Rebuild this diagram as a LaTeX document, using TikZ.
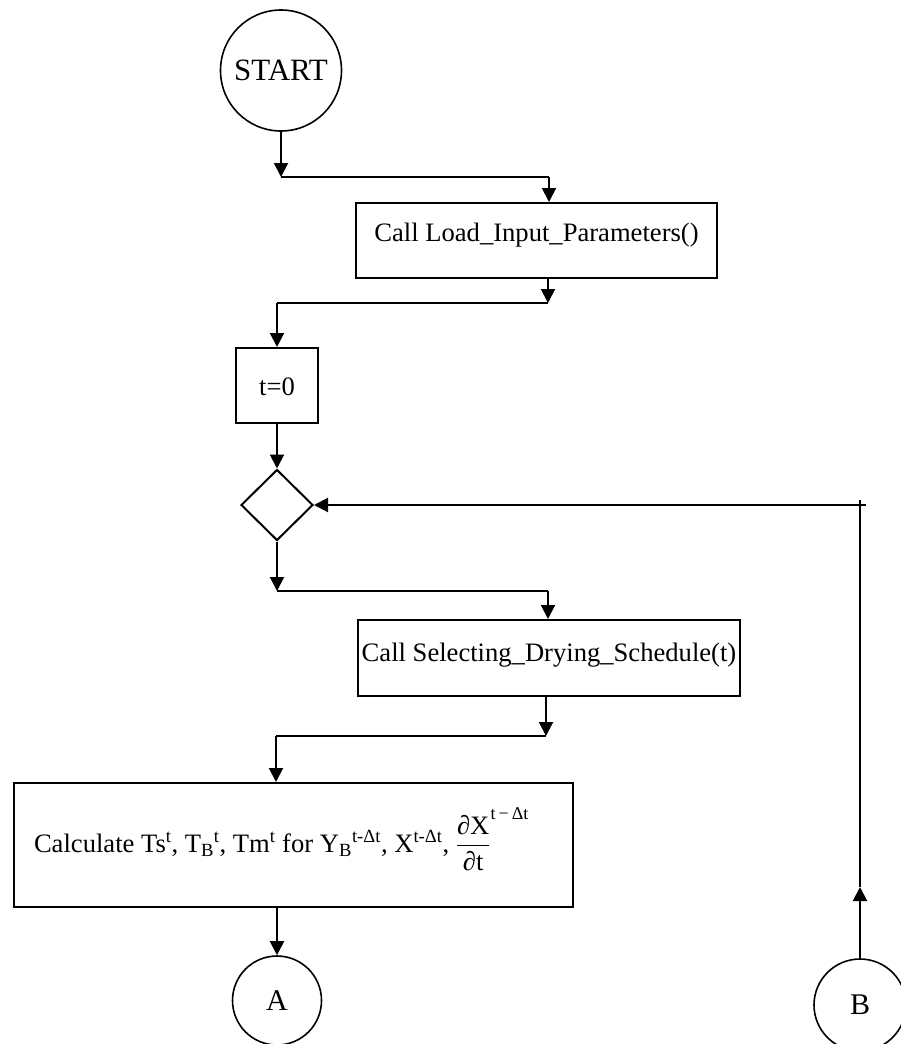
\RequirePackage{fix-cm}
\documentclass[tikz,border=0pt]{standalone}
\usepackage{fontspec}
\setmainfont{Liberation Serif}
\usetikzlibrary{arrows.meta,shapes.geometric}
\begin{document}
\begin{tikzpicture}[x=1pt,y=-1pt,
  line width=2pt,
  arr/.style={-{Triangle[length=14pt,width=14pt]}},
  txt/.style={font=\fontsize{26.6}{30}\selectfont},
  procbox/.style={draw, rectangle, inner sep=0pt, txt},
  termcirc/.style={draw, circle, inner sep=0pt, line width=1.6pt}]
\useasboundingbox (0,0) rectangle (900,1044);

% nodes
\node[termcirc, minimum size=121pt, font=\fontsize{31}{34}\selectfont] (start) at (281,70.5) {START};
\node[procbox, minimum width=361pt, text height=38pt, text depth=37pt] (load) at (536.5,240.5) {Call Load\_Input\_Parameters()};
\node[procbox, minimum width=82pt, text height=47pt, text depth=28pt] (t0) at (277,385.5) {t=0};
\node[draw, diamond, inner sep=0pt, minimum width=72pt, minimum height=71pt] (dec) at (277,505) {};
\node[procbox, minimum width=382pt, text height=41pt, text depth=35pt] (sel) at (549,658) {Call Selecting\_Drying\_Schedule(t)};
\node[draw, rectangle, inner sep=0pt, minimum width=559pt, minimum height=124pt] (calc) at (293.5,845) {};
\node[txt, anchor=base west, inner sep=0pt] (calctext) at (33,852)
  {Calculate Ts\textsuperscript{t}, T\textsubscript{B}\textsuperscript{t}, Tm\textsuperscript{t} for Y\textsubscript{B}\textsuperscript{t-Δt}, X\textsuperscript{t-Δt}, $\displaystyle\frac{\mbox{∂X}}{\mbox{∂t}}$\raisebox{33pt}{\fontsize{18}{18}\selectfont t\,−\,Δt}};
\node[termcirc, minimum size=89pt, font=\fontsize{30}{33}\selectfont] (A) at (277,1000.5) {A};
\node[termcirc, minimum size=92pt, font=\fontsize{30}{33}\selectfont] (B) at (860,1005) {B};

% junction coordinates
\coordinate (j1l) at (281,177);
\coordinate (j1r) at (549,177);
\coordinate (j2r) at (548,303);
\coordinate (j2l) at (277,303);
\coordinate (j3l) at (277,591);
\coordinate (j3r) at (548,591);
\coordinate (j4r) at (546,736);
\coordinate (j4l) at (276,736);
\coordinate (bmid) at (860,887);
\coordinate (ctop) at (860,500);
\coordinate (cright) at (866,505);

% connectors
\draw[arr] (start.south) -- (j1l);
\draw (j1l) -- (j1r);
\draw[arr] (j1r) -- (j1r |- load.north);

\draw[arr] (load.south -| j2r) -- (j2r);
\draw (j2r) -- (j2l);
\draw[arr] (j2l) -- (t0.north);

\draw[arr] (t0.south) -- (dec.north);

\draw[arr] (dec.south) -- (j3l);
\draw (j3l) -- (j3r);
\draw[arr] (j3r) -- (j3r |- sel.north);

\draw[arr] (sel.south -| j4r) -- (j4r);
\draw (j4r) -- (j4l);
\draw[arr] (j4l) -- (j4l |- calc.north);

\draw[arr] (calc.south -| A) -- (A.north);

\draw[arr] (B.north) -- (bmid);
\draw (bmid) -- (ctop);
\draw[arr] (cright) -- (dec.east);
\end{tikzpicture}
\end{document}
